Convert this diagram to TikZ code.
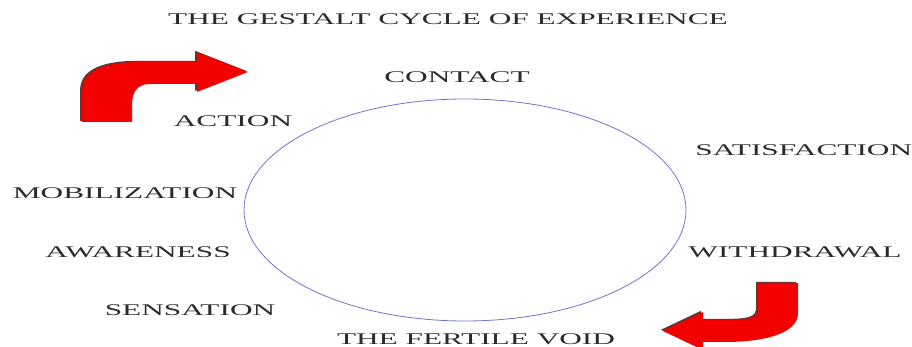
\documentclass[tikz,border=0pt]{standalone}
\usepackage{fontspec}
\setmainfont{Liberation Serif}
\definecolor{txt}{HTML}{2A2A2A}
\definecolor{ring}{RGB}{115,115,205}
\definecolor{arrowred}{RGB}{245,0,0}
\definecolor{arrowshade}{RGB}{95,55,55}
\begin{document}
\begin{tikzpicture}[x=1pt,y=1pt,
  lbl/.style={font=\fontsize{16.3}{19}\selectfont, text=txt, inner sep=0pt, anchor=base, xscale=1.92},
  redfill/.style={fill=arrowred, draw=none},
  shadefill/.style={fill=arrowshade, draw=none}]
\useasboundingbox (0,0) rectangle (912,347);
\clip (0,0) rectangle (912,347);

% cycle ring
\draw[ring, line width=0.8pt] (465,137) ellipse [x radius=221, y radius=111];

% labels
\node[lbl] (title) at (448,322) {THE GESTALT CYCLE OF EXPERIENCE};
\node[lbl] (contact) at (457,264) {CONTACT};
\node[lbl] (action) at (233,220) {ACTION};
\node[lbl, anchor=base west] (satisfaction) at (695,191) {SATISFACTION};
\node[lbl] (mobilization) at (125,148) {MOBILIZATION};
\node[lbl] (awareness) at (138,89) {AWARENESS};
\node[lbl] (withdrawal) at (795,89) {WITHDRAWAL};
\node[lbl] (sensation) at (190,31) {SENSATION};
\node[lbl] (void) at (476,2) {THE FERTILE VOID};

% top-left bent arrow (shadow, then red)
\begin{scope}[shift={(-2,1.2)}]
\fill[shadefill] (82,225) -- (82,255) .. controls (82,278) and (108,285) .. (140,285)
  -- (197,285) -- (197,295) -- (248,275) -- (197,255) -- (197,263) -- (150,263)
  .. controls (138,263) and (132,256) .. (132,242) -- (132,225) -- cycle;
\end{scope}
\fill[redfill] (82,225) -- (82,255) .. controls (82,278) and (108,285) .. (140,285)
  -- (197,285) -- (197,295) -- (248,275) -- (197,255) -- (197,263) -- (150,263)
  .. controls (138,263) and (132,256) .. (132,242) -- (132,225) -- cycle;

% bottom-right bent arrow (shadow, then red)
\begin{scope}[shift={(-2,1.2)}]
\fill[shadefill] (758,64) -- (798,64) -- (798,34) .. controls (798,12) and (760,5) .. (725,5)
  -- (703,5) -- (703,-3) -- (663,16) -- (703,35) -- (703,27) -- (733,27)
  .. controls (750,27) and (758,30) .. (758,36) -- cycle;
\end{scope}
\fill[redfill] (758,64) -- (798,64) -- (798,34) .. controls (798,12) and (760,5) .. (725,5)
  -- (703,5) -- (703,-3) -- (663,16) -- (703,35) -- (703,27) -- (733,27)
  .. controls (750,27) and (758,30) .. (758,36) -- cycle;
\end{tikzpicture}
\end{document}
